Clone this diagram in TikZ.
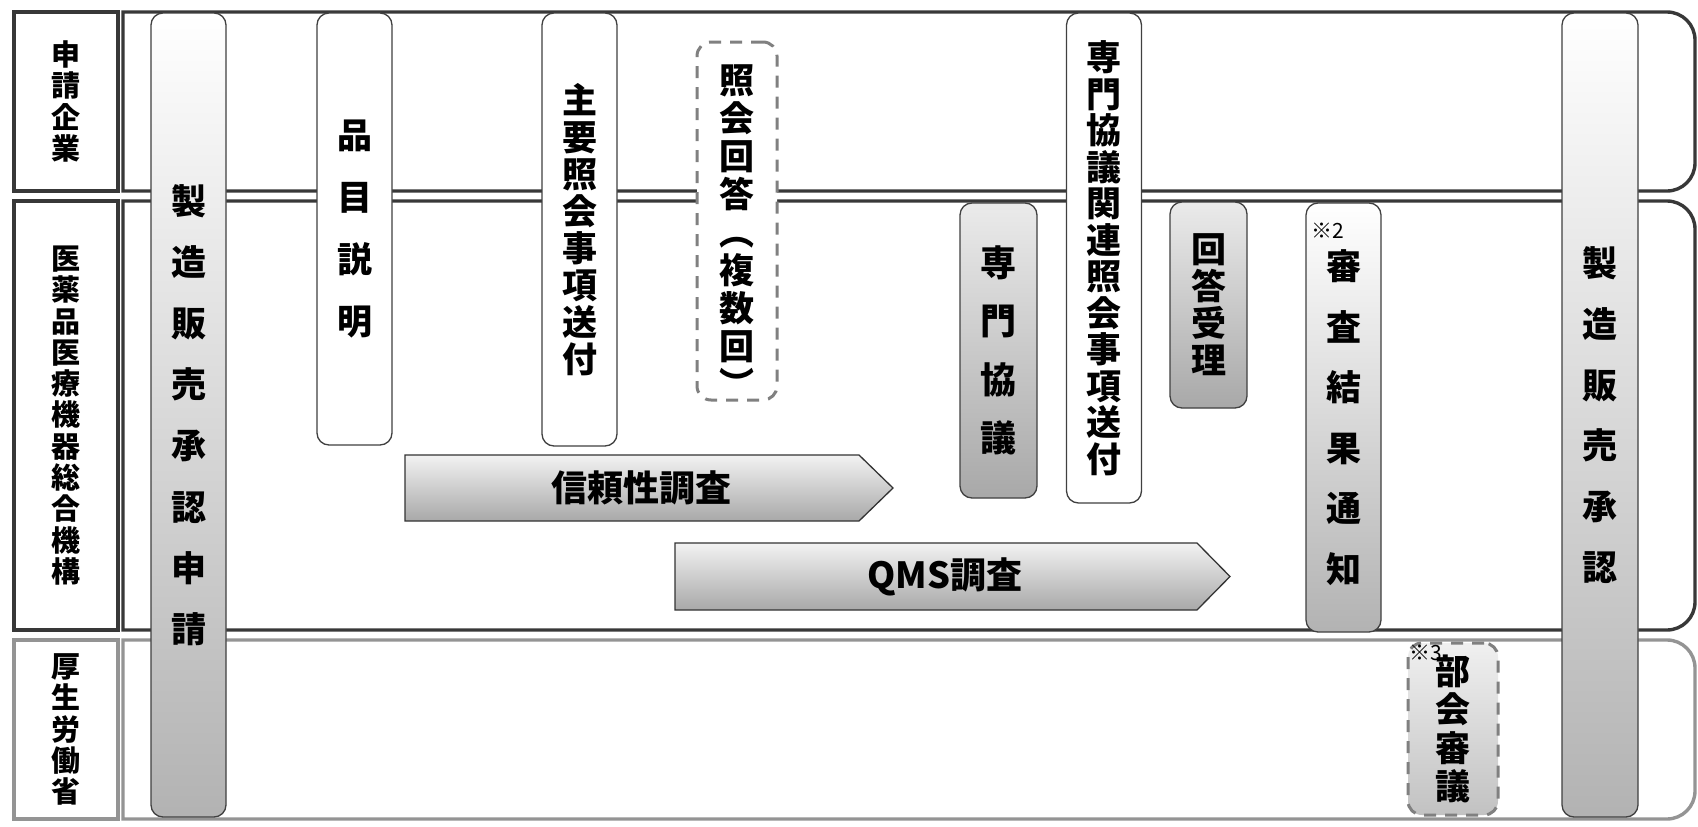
\documentclass[tikz,border=0pt]{standalone}
\usepackage{fontspec}
\setmainfont{Noto Sans CJK JP}
\newcommand\fsz[2]{\bfseries\fontsize{#1}{#2}\selectfont}
\begin{document}
\begin{tikzpicture}[x=1pt,y=-1pt,
  lane/.style={draw=black!78, line width=3.4pt},
  lanegray/.style={draw=black!42, line width=3.4pt},
  hdr/.style={draw=black!78, line width=3.4pt, minimum width=104pt, inner sep=0pt, align=center, font=\fsz{29}{31.3}},
  hdrgray/.style={hdr, draw=black!42},
  vbox/.style={draw=black!75, line width=1.3pt, rounded corners=12pt, fill=white, inner sep=0pt, align=center, minimum width=75pt},
  shadedbox/.style={vbox, top color=white, bottom color=black!30},
  darkbox/.style={vbox, top color=black!8, bottom color=black!34},
  dbox/.style={draw=black!50, line width=3pt, dash pattern=on 12pt off 9pt, rounded corners=14pt, inner sep=0pt, align=center},
  arrowbody/.style={draw=black!80, line width=1.3pt, top color=black!5, bottom color=black!34},
  atext/.style={font=\fsz{36}{40}, inner sep=0pt},
  note/.style={font=\fontsize{21}{23}\selectfont, inner sep=0pt}
]
\useasboundingbox (0,0) rectangle (1698,827);
\fill[white] (0,0) rectangle (1698,827);

% lanes
\draw[lane] (400,191) -- (123,191) -- (123,12) -- (400,12) [rounded corners=28pt] -- (1695,12) -- (1695,191) -- (400,191);
\draw[lane] (400,630) -- (123,630) -- (123,201) -- (400,201) [rounded corners=28pt] -- (1695,201) -- (1695,630) -- (400,630);
\draw[lanegray] (400,819) -- (123,819) -- (123,640) -- (400,640) [rounded corners=28pt] -- (1695,640) -- (1695,819) -- (400,819);

\node[hdr, minimum height=179pt] (h1) at (66,101.5) {申\\請\\企\\業};
\node[hdr, minimum height=429pt] (h2) at (66,415.5) {医\\薬\\品\\医\\療\\機\\器\\総\\合\\機\\構};
\node[hdrgray, minimum height=179pt] (h3) at (66,729.5) {厚\\生\\労\\働\\省};

% arrows
\path[arrowbody] (405,455) -- (859,455) -- (893,488) -- (859,521) -- (405,521) -- cycle;
\node[atext] (rel) at (641,488) {信頼性調査};
\path[arrowbody] (675,543) -- (1197,543) -- (1230,576.5) -- (1197,610) -- (675,610) -- cycle;
\node[atext] (qms) at (945,577) {QMS調査};

% vertical boxes
\node[vbox, top color=white, middle color=black!12, bottom color=black!30, minimum height=804pt, font=\fsz{35}{61.2}] (appl) at (188.5,415) {製\\造\\販\\売\\承\\認\\申\\請};
\node[vbox, minimum height=432pt, font=\fsz{35}{61.7}] (expl) at (354.5,229) {品\\目\\説\\明};
\node[vbox, minimum height=433pt, font=\fsz{35}{36.9}] (mainq) at (579.5,229.5) {主\\要\\照\\会\\事\\項\\送\\付};
\node[dbox, fill=white, minimum width=80pt, minimum height=358pt] (reply) at (737,221) {};
\node[inner sep=0pt, align=center, font=\fsz{35}{38}] (replytxt) at (737,231) {照\\会\\回\\答\\︵\\複\\数\\回\\︶};
\node[vbox, minimum height=490pt, font=\fsz{35}{36.5}] (expq) at (1104,258) {専\\門\\協\\議\\関\\連\\照\\会\\事\\項\\送\\付};
\node[darkbox, minimum width=77pt, minimum height=295pt, font=\fsz{36}{58.5}] (expd) at (998.5,350.5) {専\\門\\協\\議};
\node[darkbox, minimum width=77pt, minimum height=206pt, font=\fsz{35}{37}] (recv) at (1208.5,305) {回\\答\\受\\理};
\node[shadedbox, minimum height=429pt, font=\fsz{35}{60.5}] (result) at (1343.5,417.5) {審\\査\\結\\果\\通\\知};
\node[note] (n2) at (1328,231) {※2};
\node[vbox, top color=white, middle color=black!14, bottom color=black!30, minimum width=76pt, minimum height=804pt, font=\fsz{35}{60.8}] (appr) at (1600,415) {製\\造\\販\\売\\承\\認};
\node[dbox, top color=black!6, bottom color=black!24, minimum width=90pt, minimum height=172pt, font=\fsz{35}{38.3}] (council) at (1453,729) {部\\会\\審\\議};
\node[note] (n3) at (1426,653) {※3};
\end{tikzpicture}
\end{document}
